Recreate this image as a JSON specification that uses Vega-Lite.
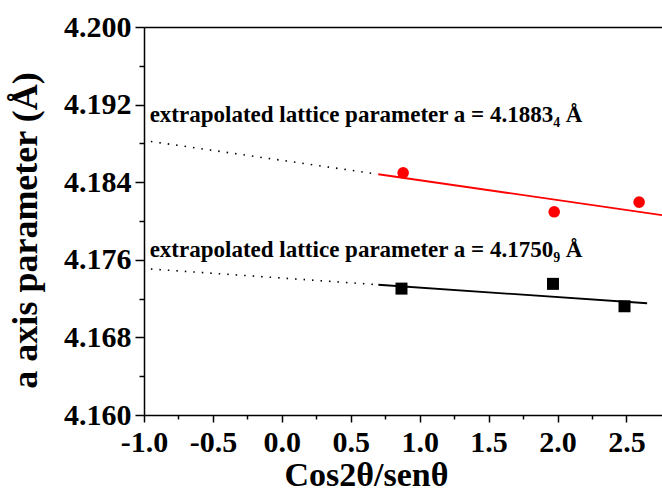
{
  "$schema": "https://vega.github.io/schema/vega-lite/v6.json",
  "width": 518,
  "height": 388,
  "autosize": {"type": "none"},
  "padding": {"left": 144, "top": 27, "right": 0, "bottom": 77},
  "background": "white",
  "config": {"view": {"stroke": null}, "font": "Liberation Serif"},
  "datasets": {
    "points": [
      {"x": 0.880, "y": 4.18497, "s": "R"},
      {"x": 1.976, "y": 4.18095, "s": "R"},
      {"x": 2.592, "y": 4.18194, "s": "R"},
      {"x": 0.868, "y": 4.17303, "s": "K"},
      {"x": 1.967, "y": 4.17352, "s": "K"},
      {"x": 2.486, "y": 4.17121, "s": "K"}
    ],
    "fit": [
      {"x": 0.70, "y": 4.18482, "s": "R"},
      {"x": 2.758, "y": 4.18060, "s": "R"},
      {"x": 0.70, "y": 4.17343, "s": "K"},
      {"x": 2.65, "y": 4.17152, "s": "K"}
    ],
    "extrap": [
      {"x": -0.95, "y": 4.1882, "s": "R"},
      {"x": 0.70, "y": 4.18482, "s": "R"},
      {"x": -0.95, "y": 4.17505, "s": "K"},
      {"x": 0.70, "y": 4.17343, "s": "K"}
    ],
    "notes": [
      {"x": -0.959, "y": 4.1902, "t": "extrapolated lattice parameter a = 4.1883₄ Å"},
      {"x": -0.959, "y": 4.17626, "t": "extrapolated lattice parameter a = 4.1750₉ Å"}
    ]
  },
  "resolve": {"axis": {"x": "independent", "y": "independent"}},
  "layer": [
    {
      "data": {"name": "extrap"},
      "mark": {"type": "line", "color": "#000000", "strokeWidth": 1.6, "strokeDash": [1.5, 7]},
      "encoding": {
        "x": {"field": "x", "type": "quantitative", "scale": {"domain": [-1, 2.758], "nice": false, "zero": false}, "axis": null},
        "y": {"field": "y", "type": "quantitative", "scale": {"domain": [4.16, 4.2], "nice": false, "zero": false}, "axis": null},
        "detail": {"field": "s", "type": "nominal"}
      }
    },
    {
      "data": {"name": "fit"},
      "mark": {"type": "line", "strokeWidth": 1.8},
      "encoding": {
        "x": {"field": "x", "type": "quantitative", "scale": {"domain": [-1, 2.758], "nice": false, "zero": false}, "axis": null},
        "y": {"field": "y", "type": "quantitative", "scale": {"domain": [4.16, 4.2], "nice": false, "zero": false}, "axis": null},
        "color": {"field": "s", "type": "nominal", "scale": {"domain": ["R", "K"], "range": ["#ff0000", "#000000"]}, "legend": null}
      }
    },
    {
      "data": {"name": "points"},
      "transform": [{"filter": "datum.s == 'R'"}],
      "mark": {"type": "circle", "size": 135, "color": "#ff0000", "opacity": 1},
      "encoding": {
        "x": {"field": "x", "type": "quantitative", "scale": {"domain": [-1, 2.758], "nice": false, "zero": false}, "axis": null},
        "y": {"field": "y", "type": "quantitative", "scale": {"domain": [4.16, 4.2], "nice": false, "zero": false}, "axis": null}
      }
    },
    {
      "data": {"name": "points"},
      "transform": [{"filter": "datum.s == 'K'"}],
      "mark": {"type": "square", "size": 144, "color": "#000000", "opacity": 1},
      "encoding": {
        "x": {
          "field": "x", "type": "quantitative",
          "scale": {"domain": [-1, 2.758], "nice": false, "zero": false},
          "axis": {
            "orient": "bottom",
            "values": [-1, -0.75, -0.5, -0.25, 0, 0.25, 0.5, 0.75, 1, 1.25, 1.5, 1.75, 2, 2.25, 2.5],
            "labelExpr": "round(datum.value*4)%2==0 ? (datum.value<0 ? '-' : '') + format(abs(datum.value),'.1f') : ''",
            "tickSize": {"condition": {"test": "round(datum.value*4)%2!=0", "value": 4}, "value": 7},
            "grid": false,
            "domainColor": "#000000", "domainWidth": 1.5,
            "tickColor": "#000000", "tickWidth": 1.5,
            "labelFont": "Liberation Serif", "labelFontWeight": "bold", "labelFontSize": 30,
            "labelColor": "#000000", "labelPadding": 5, "labelFlush": false, "labelOverlap": false,
            "title": "Cos2θ/senθ",
            "titleFont": "Liberation Serif", "titleFontWeight": "bold", "titleFontSize": 34,
            "titleColor": "#000000", "titleX": 222, "titleY": 70, "titleBaseline": "alphabetic", "titleAlign": "center"
          }
        },
        "y": {
          "field": "y", "type": "quantitative",
          "scale": {"domain": [4.16, 4.2], "nice": false, "zero": false},
          "axis": {
            "orient": "left",
            "values": [4.16, 4.164, 4.168, 4.172, 4.176, 4.18, 4.184, 4.188, 4.192, 4.196, 4.2],
            "labelExpr": "round(datum.value*1000)%8==0 ? format(datum.value,'.3f') : ''",
            "tickSize": {"condition": {"test": "round(datum.value*1000)%8!=0", "value": 5}, "value": 9},
            "grid": false,
            "domainColor": "#000000", "domainWidth": 1.5,
            "tickColor": "#000000", "tickWidth": 1.5,
            "labelFont": "Liberation Serif", "labelFontWeight": "bold", "labelFontSize": 30,
            "labelColor": "#000000", "labelPadding": 4, "labelFlush": false, "labelOverlap": false,
            "title": "a axis parameter (Å)",
            "titleFont": "Liberation Serif", "titleFontWeight": "bold", "titleFontSize": 36,
            "titleColor": "#000000", "titleX": -107.6, "titleY": 203, "titleAngle": -90,
            "titleBaseline": "alphabetic", "titleAlign": "center"
          }
        }
      }
    },
    {
      "data": {"name": "notes"},
      "mark": {"type": "text", "align": "left", "baseline": "alphabetic", "font": "Liberation Serif", "fontWeight": "bold", "fontSize": 23, "color": "#000000"},
      "encoding": {
        "x": {
          "field": "x", "type": "quantitative",
          "scale": {"domain": [-1, 2.758], "nice": false, "zero": false},
          "axis": {"orient": "top", "ticks": false, "labels": false, "title": null, "grid": false, "domainColor": "#000000", "domainWidth": 1.5}
        },
        "y": {"field": "y", "type": "quantitative", "scale": {"domain": [4.16, 4.2], "nice": false, "zero": false}, "axis": null},
        "text": {"field": "t", "type": "nominal"}
      }
    }
  ]
}
